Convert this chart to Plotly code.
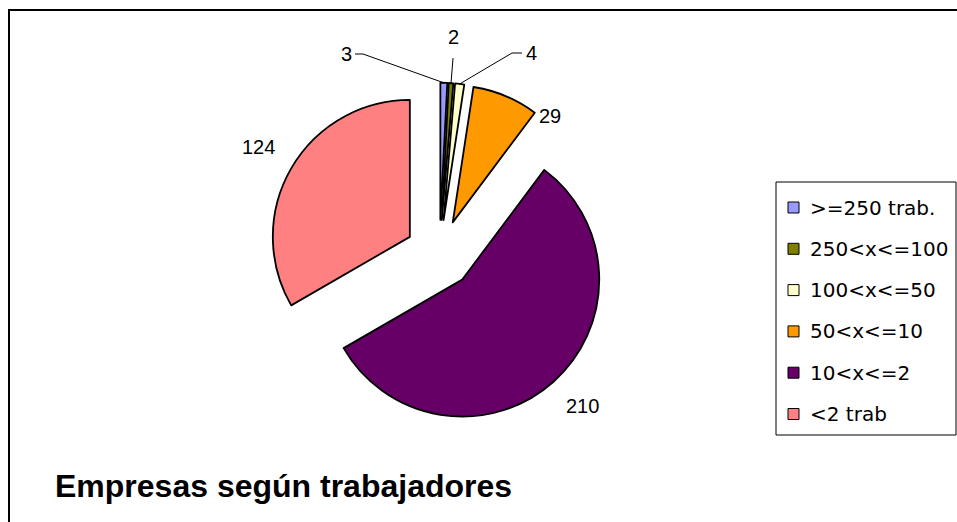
import math
import plotly.graph_objects as go

# ---- data ----
categories = [">=250 trab.", "250<x<=100", "100<x<=50", "50<x<=10", "10<x<=2", "<2 trab"]
values = [3, 2, 4, 29, 210, 124]
colors = ["#9999FF", "#808000", "#FFFFCC", "#FF9900", "#660066", "#FF8080"]
title_text = "Empresas según trabajadores"

# ---- layout constants (pixels) ----
W, H = 957, 522
cx, cy = 439.5, 254.0       # pie centre
r = 137.0                   # pie radius
pull = 0.25                 # explode fraction
R = r * (1 + pull)

# label positions (text centres) and leader-line anchor points
label_pos = [(346, 54), (453, 37), (531, 53), (550, 116), (582, 406), (258, 147)]
leader = {0: [(355, 54), (363, 54)], 1: [(453, 58)], 2: [(522, 53), (512, 53)]}

fig = go.Figure()
fig.add_trace(go.Pie(
    labels=categories, values=values, sort=False, direction="clockwise", rotation=0,
    marker=dict(colors=colors, line=dict(color="#000000", width=1.8)),
    pull=[pull] * len(values), textinfo="none", hoverinfo="label+value",
    showlegend=False,
    domain=dict(x=[(cx - R) / W, (cx + R) / W], y=[1 - (cy + R) / H, 1 - (cy - R) / H]),
))

shapes = []
annotations = []

# outer frame
shapes.append(dict(type="rect", xref="x", yref="y", x0=9, y0=10, x1=1100, y1=700,
                   line=dict(color="#000000", width=2), fillcolor="rgba(0,0,0,0)"))

# value labels + leader lines
total = sum(values)
cum = 0
for i, v in enumerate(values):
    mid = (cum + v / 2) / total * 2 * math.pi
    cum += v
    lx, ly = label_pos[i]
    annotations.append(dict(x=lx, y=ly, xref="x", yref="y", text=str(v), showarrow=False,
                            xanchor="center", yanchor="middle",
                            font=dict(family="Liberation Sans, Arial", size=20, color="#000000")))
    if i in leader:
        px = cx + (r * pull + r) * math.sin(mid)
        py = cy - (r * pull + r) * math.cos(mid)
        pts = leader[i] + [(px, py)]
        path = "M " + " L ".join(f"{x},{y}" for x, y in pts)
        shapes.append(dict(type="path", xref="x", yref="y", path=path,
                           line=dict(color="#000000", width=1)))

# manual legend
leg_x0, leg_y0, leg_x1, leg_y1 = 776, 182, 956, 435
shapes.append(dict(type="rect", xref="x", yref="y", x0=leg_x0, y0=leg_y0, x1=leg_x1, y1=leg_y1,
                   line=dict(color="#000000", width=1), fillcolor="#FFFFFF", layer="below"))
first_y, step = 207.5, 41.3
for i, (name, col) in enumerate(zip(categories, colors)):
    yc = first_y + i * step
    shapes.append(dict(type="rect", xref="x", yref="y", x0=788, x1=799, y0=yc - 5.5, y1=yc + 5.5,
                       line=dict(color="#000000", width=1), fillcolor=col))
    annotations.append(dict(x=808, y=yc, xref="x", yref="y", text=name, showarrow=False,
                            xanchor="left", yanchor="middle",
                            font=dict(family="DejaVu Sans", size=20, color="#000000")))

# title
annotations.append(dict(x=53, y=486, xref="x", yref="y", text="<b>" + title_text + "</b>",
                        showarrow=False, xanchor="left", yanchor="middle",
                        font=dict(family="Liberation Sans, Arial", size=32, color="#000000")))

fig.update_layout(
    width=W, height=H, margin=dict(l=0, r=0, t=0, b=0),
    paper_bgcolor="#FFFFFF", plot_bgcolor="rgba(0,0,0,0)",
    xaxis=dict(range=[0, W], visible=False, fixedrange=True),
    yaxis=dict(range=[H, 0], visible=False, fixedrange=True),
    shapes=shapes, annotations=annotations, showlegend=False,
)

fig.write_html("out.html", config={"displayModeBar": False},
               post_script="document.body.style.margin='0';document.body.style.overflow='hidden';")
